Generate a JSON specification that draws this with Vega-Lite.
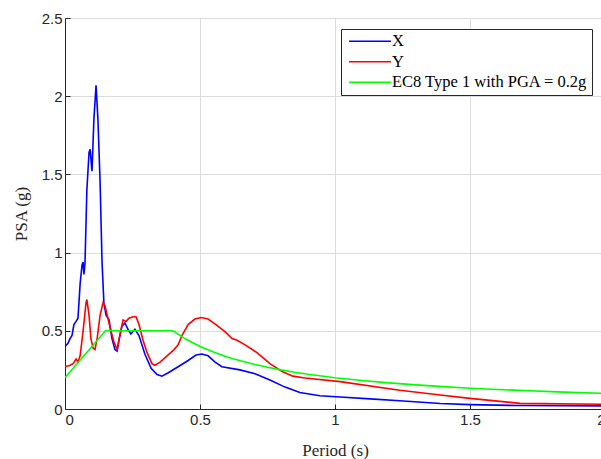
{
  "$schema": "https://vega.github.io/schema/vega-lite/v6.json",
  "width": 540,
  "height": 391,
  "autosize": {"type": "none"},
  "padding": {"left": 65, "top": 18, "right": 0, "bottom": 50},
  "background": "white",
  "config": {
    "view": {"stroke": "#262626", "strokeWidth": 1},
    "axis": {
      "labelFont": "Liberation Sans",
      "labelFontSize": 15,
      "labelColor": "#262626",
      "titleFont": "Liberation Serif",
      "titleFontSize": 17,
      "titleFontWeight": "normal",
      "titleColor": "#262626",
      "domainColor": "#262626",
      "tickColor": "#262626",
      "gridColor": "#dcdcdc",
      "gridWidth": 1,
      "tickSize": -5
    }
  },
  "data": {
    "values": [
      {"T": 0.0, "PSA": 0.40, "series": "X"},
      {"T": 0.011, "PSA": 0.42, "series": "X"},
      {"T": 0.0185, "PSA": 0.45, "series": "X"},
      {"T": 0.026, "PSA": 0.47, "series": "X"},
      {"T": 0.033, "PSA": 0.54, "series": "X"},
      {"T": 0.041, "PSA": 0.56, "series": "X"},
      {"T": 0.048, "PSA": 0.58, "series": "X"},
      {"T": 0.056, "PSA": 0.80, "series": "X"},
      {"T": 0.063, "PSA": 0.92, "series": "X"},
      {"T": 0.067, "PSA": 0.94, "series": "X"},
      {"T": 0.070, "PSA": 0.86, "series": "X"},
      {"T": 0.074, "PSA": 0.93, "series": "X"},
      {"T": 0.081, "PSA": 1.40, "series": "X"},
      {"T": 0.089, "PSA": 1.64, "series": "X"},
      {"T": 0.093, "PSA": 1.66, "series": "X"},
      {"T": 0.100, "PSA": 1.52, "series": "X"},
      {"T": 0.107, "PSA": 1.85, "series": "X"},
      {"T": 0.115, "PSA": 2.07, "series": "X"},
      {"T": 0.122, "PSA": 1.85, "series": "X"},
      {"T": 0.130, "PSA": 1.45, "series": "X"},
      {"T": 0.137, "PSA": 0.95, "series": "X"},
      {"T": 0.144, "PSA": 0.68, "series": "X"},
      {"T": 0.152, "PSA": 0.60, "series": "X"},
      {"T": 0.163, "PSA": 0.57, "series": "X"},
      {"T": 0.174, "PSA": 0.45, "series": "X"},
      {"T": 0.185, "PSA": 0.38, "series": "X"},
      {"T": 0.193, "PSA": 0.37, "series": "X"},
      {"T": 0.200, "PSA": 0.44, "series": "X"},
      {"T": 0.211, "PSA": 0.53, "series": "X"},
      {"T": 0.222, "PSA": 0.55, "series": "X"},
      {"T": 0.233, "PSA": 0.51, "series": "X"},
      {"T": 0.244, "PSA": 0.48, "series": "X"},
      {"T": 0.259, "PSA": 0.51, "series": "X"},
      {"T": 0.274, "PSA": 0.47, "series": "X"},
      {"T": 0.296, "PSA": 0.35, "series": "X"},
      {"T": 0.319, "PSA": 0.26, "series": "X"},
      {"T": 0.341, "PSA": 0.22, "series": "X"},
      {"T": 0.359, "PSA": 0.21, "series": "X"},
      {"T": 0.381, "PSA": 0.23, "series": "X"},
      {"T": 0.419, "PSA": 0.27, "series": "X"},
      {"T": 0.456, "PSA": 0.31, "series": "X"},
      {"T": 0.485, "PSA": 0.345, "series": "X"},
      {"T": 0.507, "PSA": 0.352, "series": "X"},
      {"T": 0.530, "PSA": 0.34, "series": "X"},
      {"T": 0.556, "PSA": 0.30, "series": "X"},
      {"T": 0.581, "PSA": 0.27, "series": "X"},
      {"T": 0.648, "PSA": 0.25, "series": "X"},
      {"T": 0.704, "PSA": 0.225, "series": "X"},
      {"T": 0.759, "PSA": 0.185, "series": "X"},
      {"T": 0.815, "PSA": 0.14, "series": "X"},
      {"T": 0.870, "PSA": 0.105, "series": "X"},
      {"T": 0.944, "PSA": 0.085, "series": "X"},
      {"T": 1.019, "PSA": 0.077, "series": "X"},
      {"T": 1.13, "PSA": 0.065, "series": "X"},
      {"T": 1.24, "PSA": 0.053, "series": "X"},
      {"T": 1.39, "PSA": 0.035, "series": "X"},
      {"T": 1.5, "PSA": 0.028, "series": "X"},
      {"T": 1.685, "PSA": 0.022, "series": "X"},
      {"T": 2.0, "PSA": 0.02, "series": "X"},

      {"T": 0.0, "PSA": 0.27, "series": "Y"},
      {"T": 0.019, "PSA": 0.28, "series": "Y"},
      {"T": 0.030, "PSA": 0.29, "series": "Y"},
      {"T": 0.041, "PSA": 0.32, "series": "Y"},
      {"T": 0.048, "PSA": 0.30, "series": "Y"},
      {"T": 0.056, "PSA": 0.34, "series": "Y"},
      {"T": 0.067, "PSA": 0.50, "series": "Y"},
      {"T": 0.078, "PSA": 0.68, "series": "Y"},
      {"T": 0.081, "PSA": 0.70, "series": "Y"},
      {"T": 0.089, "PSA": 0.60, "series": "Y"},
      {"T": 0.096, "PSA": 0.45, "series": "Y"},
      {"T": 0.104, "PSA": 0.39, "series": "Y"},
      {"T": 0.111, "PSA": 0.38, "series": "Y"},
      {"T": 0.119, "PSA": 0.45, "series": "Y"},
      {"T": 0.130, "PSA": 0.60, "series": "Y"},
      {"T": 0.141, "PSA": 0.68, "series": "Y"},
      {"T": 0.148, "PSA": 0.66, "series": "Y"},
      {"T": 0.159, "PSA": 0.58, "series": "Y"},
      {"T": 0.170, "PSA": 0.50, "series": "Y"},
      {"T": 0.181, "PSA": 0.43, "series": "Y"},
      {"T": 0.193, "PSA": 0.38, "series": "Y"},
      {"T": 0.204, "PSA": 0.48, "series": "Y"},
      {"T": 0.215, "PSA": 0.57, "series": "Y"},
      {"T": 0.226, "PSA": 0.56, "series": "Y"},
      {"T": 0.237, "PSA": 0.58, "series": "Y"},
      {"T": 0.252, "PSA": 0.59, "series": "Y"},
      {"T": 0.263, "PSA": 0.59, "series": "Y"},
      {"T": 0.274, "PSA": 0.54, "series": "Y"},
      {"T": 0.289, "PSA": 0.44, "series": "Y"},
      {"T": 0.304, "PSA": 0.36, "series": "Y"},
      {"T": 0.322, "PSA": 0.29, "series": "Y"},
      {"T": 0.333, "PSA": 0.28, "series": "Y"},
      {"T": 0.352, "PSA": 0.30, "series": "Y"},
      {"T": 0.378, "PSA": 0.34, "series": "Y"},
      {"T": 0.404, "PSA": 0.38, "series": "Y"},
      {"T": 0.419, "PSA": 0.41, "series": "Y"},
      {"T": 0.433, "PSA": 0.47, "series": "Y"},
      {"T": 0.456, "PSA": 0.54, "series": "Y"},
      {"T": 0.481, "PSA": 0.575, "series": "Y"},
      {"T": 0.504, "PSA": 0.585, "series": "Y"},
      {"T": 0.530, "PSA": 0.575, "series": "Y"},
      {"T": 0.559, "PSA": 0.54, "series": "Y"},
      {"T": 0.589, "PSA": 0.50, "series": "Y"},
      {"T": 0.619, "PSA": 0.45, "series": "Y"},
      {"T": 0.637, "PSA": 0.44, "series": "Y"},
      {"T": 0.667, "PSA": 0.41, "series": "Y"},
      {"T": 0.711, "PSA": 0.36, "series": "Y"},
      {"T": 0.759, "PSA": 0.29, "series": "Y"},
      {"T": 0.804, "PSA": 0.24, "series": "Y"},
      {"T": 0.844, "PSA": 0.21, "series": "Y"},
      {"T": 0.889, "PSA": 0.198, "series": "Y"},
      {"T": 1.019, "PSA": 0.175, "series": "Y"},
      {"T": 1.24, "PSA": 0.12, "series": "Y"},
      {"T": 1.39, "PSA": 0.09, "series": "Y"},
      {"T": 1.5, "PSA": 0.068, "series": "Y"},
      {"T": 1.685, "PSA": 0.036, "series": "Y"},
      {"T": 2.0, "PSA": 0.03, "series": "Y"},

      {"T": 0.0, "PSA": 0.2, "series": "EC8 Type 1 with PGA = 0.2g"},
      {"T": 0.15, "PSA": 0.5, "series": "EC8 Type 1 with PGA = 0.2g"},
      {"T": 0.4, "PSA": 0.5, "series": "EC8 Type 1 with PGA = 0.2g"},
      {"T": 0.45, "PSA": 0.444, "series": "EC8 Type 1 with PGA = 0.2g"},
      {"T": 0.5, "PSA": 0.4, "series": "EC8 Type 1 with PGA = 0.2g"},
      {"T": 0.55, "PSA": 0.364, "series": "EC8 Type 1 with PGA = 0.2g"},
      {"T": 0.6, "PSA": 0.333, "series": "EC8 Type 1 with PGA = 0.2g"},
      {"T": 0.65, "PSA": 0.308, "series": "EC8 Type 1 with PGA = 0.2g"},
      {"T": 0.7, "PSA": 0.286, "series": "EC8 Type 1 with PGA = 0.2g"},
      {"T": 0.75, "PSA": 0.267, "series": "EC8 Type 1 with PGA = 0.2g"},
      {"T": 0.8, "PSA": 0.25, "series": "EC8 Type 1 with PGA = 0.2g"},
      {"T": 0.85, "PSA": 0.235, "series": "EC8 Type 1 with PGA = 0.2g"},
      {"T": 0.9, "PSA": 0.222, "series": "EC8 Type 1 with PGA = 0.2g"},
      {"T": 1.0, "PSA": 0.2, "series": "EC8 Type 1 with PGA = 0.2g"},
      {"T": 1.1, "PSA": 0.182, "series": "EC8 Type 1 with PGA = 0.2g"},
      {"T": 1.2, "PSA": 0.167, "series": "EC8 Type 1 with PGA = 0.2g"},
      {"T": 1.3, "PSA": 0.154, "series": "EC8 Type 1 with PGA = 0.2g"},
      {"T": 1.4, "PSA": 0.143, "series": "EC8 Type 1 with PGA = 0.2g"},
      {"T": 1.5, "PSA": 0.133, "series": "EC8 Type 1 with PGA = 0.2g"},
      {"T": 1.6, "PSA": 0.125, "series": "EC8 Type 1 with PGA = 0.2g"},
      {"T": 1.7, "PSA": 0.118, "series": "EC8 Type 1 with PGA = 0.2g"},
      {"T": 1.8, "PSA": 0.111, "series": "EC8 Type 1 with PGA = 0.2g"},
      {"T": 1.9, "PSA": 0.105, "series": "EC8 Type 1 with PGA = 0.2g"},
      {"T": 2.0, "PSA": 0.1, "series": "EC8 Type 1 with PGA = 0.2g"}
    ]
  },
  "mark": {"type": "line", "strokeWidth": 1.6, "clip": true},
  "encoding": {
    "x": {
      "field": "T",
      "type": "quantitative",
      "scale": {"domain": [0, 2], "nice": false},
      "axis": {"values": [0, 0.5, 1, 1.5, 2], "format": "~g", "title": "Period (s)", "labelPadding": 8, "titlePadding": 15}
    },
    "y": {
      "field": "PSA",
      "type": "quantitative",
      "scale": {"domain": [0, 2.5], "nice": false},
      "axis": {"values": [0, 0.5, 1, 1.5, 2, 2.5], "format": "~g", "title": "PSA (g)", "labelPadding": 8, "titlePadding": 11}
    },
    "color": {
      "field": "series",
      "type": "nominal",
      "scale": {
        "domain": ["X", "Y", "EC8 Type 1 with PGA = 0.2g"],
        "range": ["#0000ff", "#ff0000", "#00ff00"]
      },
      "legend": {
        "orient": "none",
        "legendX": 276,
        "legendY": 11,
        "title": null,
        "symbolType": "M-5,0H5",
        "symbolSize": 70.56,
        "symbolStrokeWidth": 1.6,
        "symbolOffset": 16.8,
        "labelOffset": 13.6,
        "labelFont": "Liberation Serif",
        "labelFontSize": 16.5,
        "labelColor": "#000000",
        "labelLimit": 400,
        "strokeColor": "#262626",
        "fillColor": "white",
        "padding": 4,
        "rowPadding": 3.5
      }
    }
  }
}
